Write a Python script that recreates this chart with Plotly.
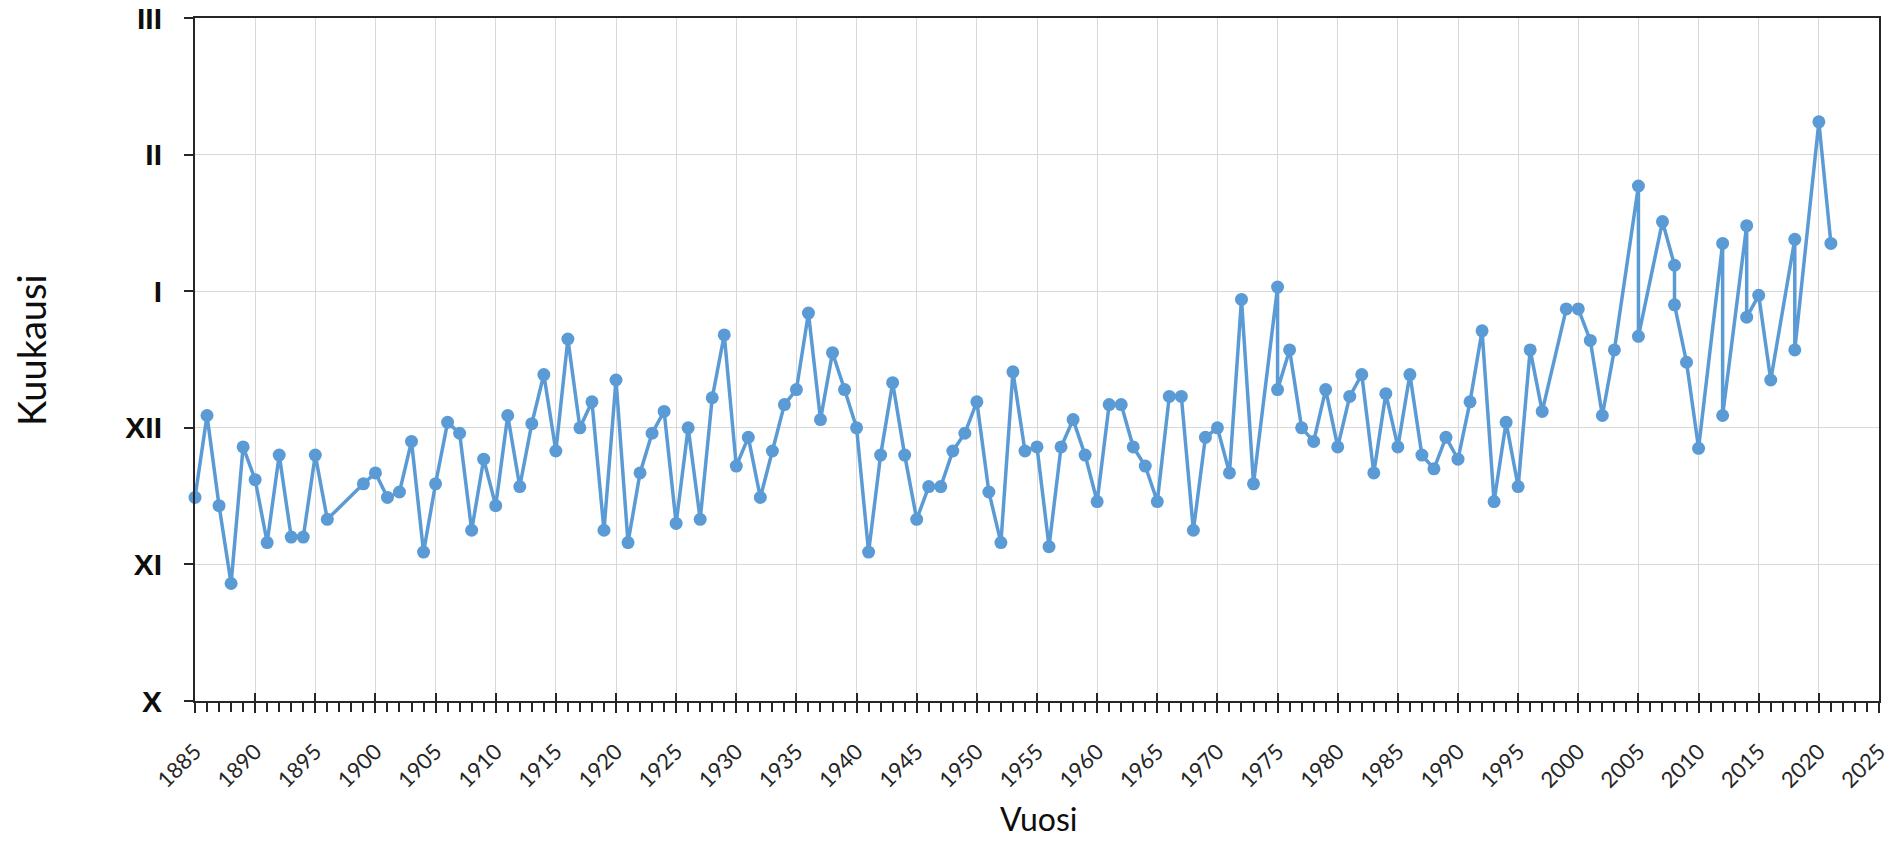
import plotly.graph_objects as go

years = [1885, 1886, 1887, 1888, 1889, 1890, 1891, 1892, 1893, 1894, 1895, 1896,
         1899, 1900, 1901, 1902, 1903, 1904, 1905, 1906, 1907, 1908, 1909, 1910,
         1911, 1912, 1913, 1914, 1915, 1916, 1917, 1918, 1919, 1920, 1921, 1922,
         1923, 1924, 1925, 1926, 1927, 1928, 1929, 1930, 1931, 1932, 1933, 1934,
         1935, 1936, 1937, 1938, 1939, 1940, 1941, 1942, 1943, 1944, 1945, 1946,
         1947, 1948, 1949, 1950, 1951, 1952, 1953, 1954, 1955, 1956, 1957, 1958,
         1959, 1960, 1961, 1962, 1963, 1964, 1965, 1966, 1967, 1968, 1969, 1970,
         1971, 1972, 1973, 1975, 1975, 1976, 1977, 1978, 1979, 1980, 1981, 1982,
         1983, 1984, 1985, 1986, 1987, 1988, 1989, 1990, 1991, 1992, 1993, 1994,
         1995, 1996, 1997, 1999, 2000, 2001, 2002, 2003, 2005, 2005, 2007, 2008,
         2008, 2009, 2010, 2012, 2012, 2014, 2014, 2015, 2016, 2018, 2018, 2020,
         2021]

# month position: 0 = X (Oct), 1 = XI, 2 = XII, 3 = I, 4 = II, 5 = III
month_value = [1.49, 2.09, 1.43, 0.86, 1.86, 1.62, 1.16, 1.80, 1.20, 1.20, 1.80, 1.33,
               1.59, 1.67, 1.49, 1.53, 1.90, 1.09, 1.59, 2.04, 1.96, 1.25, 1.77, 1.43,
               2.09, 1.57, 2.03, 2.39, 1.83, 2.65, 2.00, 2.19, 1.25, 2.35, 1.16, 1.67,
               1.96, 2.12, 1.30, 2.00, 1.33, 2.22, 2.68, 1.72, 1.93, 1.49, 1.83, 2.17,
               2.28, 2.84, 2.06, 2.55, 2.28, 2.00, 1.09, 1.80, 2.33, 1.80, 1.33, 1.57,
               1.57, 1.83, 1.96, 2.19, 1.53, 1.16, 2.41, 1.83, 1.86, 1.13, 1.86, 2.06,
               1.80, 1.46, 2.17, 2.17, 1.86, 1.72, 1.46, 2.23, 2.23, 1.25, 1.93, 2.00,
               1.67, 2.94, 1.59, 3.03, 2.28, 2.57, 2.00, 1.90, 2.28, 1.86, 2.23, 2.39,
               1.67, 2.25, 1.86, 2.39, 1.80, 1.70, 1.93, 1.77, 2.19, 2.71, 1.46, 2.04,
               1.57, 2.57, 2.12, 2.87, 2.87, 2.64, 2.09, 2.57, 3.77, 2.67, 3.51, 3.19,
               2.90, 2.48, 1.85, 3.35, 2.09, 3.48, 2.81, 2.97, 2.35, 3.38, 2.57, 4.24,
               3.35]

month_ticks = [0, 1, 2, 3, 4, 5]
month_labels = ["X", "XI", "XII", "I", "II", "III"]

x_title = "Vuosi"
y_title = "Kuukausi"

LINE_BLUE = "#5B9BD5"
AXIS_COL = "#262626"
GRID_COL = "#d9d9d9"

fig = go.Figure()
fig.add_trace(go.Scatter(
    x=years, y=month_value, mode="lines+markers",
    line=dict(color=LINE_BLUE, width=3.5),
    marker=dict(color=LINE_BLUE, size=13),
    cliponaxis=False, showlegend=False,
))
# invisible companion trace to draw the inner half of major x ticks
fig.add_trace(go.Scatter(
    x=years, y=month_value, mode="markers", xaxis="x2",
    marker=dict(opacity=0), hoverinfo="skip", showlegend=False,
))

fig.update_layout(
    width=1893, height=843,
    margin=dict(l=195, r=14, t=18, b=142),
    paper_bgcolor="white", plot_bgcolor="white",
    xaxis=dict(
        range=[1885, 2025], tick0=1885, dtick=5, automargin=False,
        tickangle=-45, tickfont=dict(family="Lato", size=22, color=AXIS_COL),
        ticks="outside", ticklen=10, tickwidth=1.5, tickcolor=AXIS_COL,
        ticklabelstandoff=17, ticklabeloverflow="allow",
        minor=dict(dtick=1, ticks="outside", ticklen=9, tickwidth=1.5,
                   tickcolor=AXIS_COL, showgrid=False),
        showgrid=True, gridcolor=GRID_COL, gridwidth=1,
        showline=True, linecolor=AXIS_COL, linewidth=2, mirror=True,
        zeroline=False,
    ),
    xaxis2=dict(
        range=[1885, 2025], tick0=1885, dtick=5, overlaying="x", anchor="y",
        side="bottom", ticks="inside", ticklen=8, tickwidth=1.5, automargin=False,
        tickcolor=AXIS_COL, showticklabels=False, showgrid=False,
        showline=False, zeroline=False,
    ),
    yaxis=dict(
        range=[0, 5], tickvals=month_ticks, ticktext=month_labels, automargin=False,
        tickfont=dict(family="Liberation Sans", size=30, color="#0d0d0d", weight="bold"),
        ticks="outside", ticklen=9, tickwidth=1.5, tickcolor=AXIS_COL,
        ticklabelstandoff=16, ticklabeloverflow="allow",
        showgrid=True, gridcolor=GRID_COL, gridwidth=1,
        showline=True, linecolor=AXIS_COL, linewidth=2, mirror=True,
        zeroline=False,
    ),
    annotations=[
        dict(text=y_title, xref="paper", yref="paper", x=-0.0974, y=0.514,
             textangle=-90, showarrow=False, xanchor="center", yanchor="middle",
             font=dict(family="Lato", size=38, color="#0d0d0d")),
        dict(text=x_title, xref="paper", yref="paper", x=0.501, y=-0.203,
             showarrow=False, xanchor="center", yanchor="bottom",
             font=dict(family="Lato", size=32, color="#0d0d0d")),
    ],
)

fig.write_html("out.html",
               config={"displayModeBar": False},
               post_script="document.body.style.margin='0';document.body.style.overflow='hidden';")
